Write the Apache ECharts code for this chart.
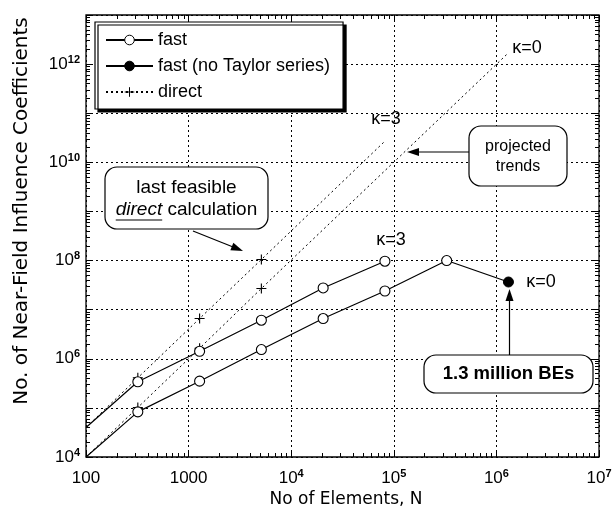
<!DOCTYPE html>
<html>
<head>
<meta charset="utf-8">
<script src="https://cdn.jsdelivr.net/npm/echarts@6/dist/echarts.min.js"></script>
<style>
  html, body { margin: 0; padding: 0; background: #fff; }
  #chart { width: 613px; height: 512px; }
</style>
</head>
<body>
<div id="chart"></div>
<script>
// Mesh sizes N (each refinement multiplies the element count by 4)
const fastK3N = [100, 320, 1280, 5120, 20480, 81920];
const fastK3 = [4.0e4, 3.4e5, 1.42e6, 6.1e6, 2.77e7, 9.7e7];
const fastK0N = [100, 320, 1280, 5120, 20480, 81920, 327680];
const fastK0 = [1.0e4, 8.3e4, 3.5e5, 1.54e6, 6.6e6, 2.4e7, 1.0e8];
const noTaylorN = [1310720];
const noTaylor = [3.66e7];
// Direct evaluation: measured points and the projected N^2 trends
const directK3N = [320, 1280, 5120];
const directK3 = [4.1e5, 6.6e6, 1.05e8];
const trendK3N = [100, 81920];
const trendK3 = [4.0e4, 2.7e10];
const directK0N = [320, 1280, 5120];
const directK0 = [1.02e5, 1.64e6, 2.7e7];
const trendK0N = [100, 1310720];
const trendK0 = [1.0e4, 1.7e12];
// Axis decades and labelled exponents
const xDecades = [2, 3, 4, 5, 6, 7];
const yDecades = [4, 5, 6, 7, 8, 9, 10, 11, 12, 13];
const yLabelled = [4, 6, 8, 10, 12];

const FONT = '"Liberation Sans", Arial, sans-serif';
const TITLE_FONT = '"DejaVu Sans", sans-serif';
const X_MIN = Math.pow(10, xDecades[0]), X_MAX = Math.pow(10, xDecades[xDecades.length - 1]);
const Y_MIN = Math.pow(10, yDecades[0]), Y_MAX = Math.pow(10, yDecades[yDecades.length - 1]);

function minorValues(lo, hi) {
  const v = [];
  for (let e = lo; e < hi; e++) for (let k = 2; k <= 9; k++) v.push(k * Math.pow(10, e));
  return v;
}
const xMinor = minorValues(xDecades[0], xDecades[xDecades.length - 1]);
const yMinor = minorValues(yDecades[0], yDecades[yDecades.length - 1]);

// Points at the left edge of the axis are drawn without a marker
function points(xs, ys) {
  return xs.map((x, i) => {
    const p = { value: [x, ys[i]] };
    if (x <= X_MIN) p.symbol = 'none';
    return p;
  });
}
function plain(x, y) { return { value: [x, y], symbol: 'none' }; }

const rich = {
  b: { fontSize: 17, fontFamily: FONT, color: '#000', lineHeight: 20 },
  e: { fontSize: 11, fontFamily: FONT, color: '#000', fontWeight: 'bold', verticalAlign: 'top', lineHeight: 12 }
};
function expOf(v) { return Math.round(Math.log10(v)); }
function xLabel(v) {
  const e = expOf(v);
  if (xDecades.indexOf(e) < 0) return '';
  return e <= 3 ? '{b|' + Math.pow(10, e) + '}' : '{b|10}{e|' + e + '}';
}
function yLabel(v) {
  const e = expOf(v);
  return yLabelled.indexOf(e) < 0 ? '' : '{b|10}{e|' + e + '}';
}

const tickStyle = { color: '#000', width: 1 };
function frameAxis(pos, min, max, ticks, len) {
  const a = {
    type: 'log', logBase: 10, position: pos, min: min, max: max, splitNumber: 12,
    axisLine: { show: false }, splitLine: { show: false }, axisLabel: { show: false },
    axisTick: { show: true, inside: true, length: len, lineStyle: tickStyle }
  };
  if (ticks) a.axisTick.customValues = ticks;
  return a;
}

const gridLine = { show: true, lineStyle: { color: '#000', width: 1, type: [2, 3] } };

const xPrimary = frameAxis('bottom', X_MIN, X_MAX, null, 7);
xPrimary.splitLine = gridLine;
xPrimary.axisLabel = { show: true, formatter: xLabel, rich: rich, margin: 11, showMinLabel: true, showMaxLabel: true };
const yPrimary = frameAxis('left', Y_MIN, Y_MAX, null, 7);
yPrimary.splitLine = gridLine;
yPrimary.axisLabel = { show: true, formatter: yLabel, rich: rich, margin: 6, showMinLabel: true, showMaxLabel: true };

const solid = { color: '#000', width: 1.2, type: 'solid' };
const dotted = { color: '#000', width: 1, type: [2, 3] };
const openCircle = { color: '#fff', borderColor: '#000', borderWidth: 1.1 };
const crossPath = 'path://M0,5H10M5,0V10';

const series = [
  { name: 'fast', type: 'line', data: points(fastK3N, fastK3), symbol: 'circle', symbolSize: 10,
    itemStyle: openCircle, lineStyle: solid, z: 4 },
  { name: 'fast', type: 'line', data: points(fastK0N, fastK0), symbol: 'circle', symbolSize: 10,
    itemStyle: openCircle, lineStyle: solid, z: 4 },
  { name: 'fast (no Taylor series)', type: 'line',
    data: [plain(fastK0N[fastK0N.length - 1], fastK0[fastK0.length - 1])].concat(points(noTaylorN, noTaylor)),
    symbol: 'circle', symbolSize: 10, itemStyle: { color: '#000', borderColor: '#000', borderWidth: 1 },
    lineStyle: solid, z: 3 },
  { name: 'direct', type: 'line',
    data: [plain(trendK3N[0], trendK3[0])].concat(points(directK3N, directK3), [plain(trendK3N[1], trendK3[1])]),
    symbol: crossPath, symbolSize: 10, itemStyle: { color: '#000', borderColor: '#000', borderWidth: 1.1 },
    lineStyle: dotted, z: 3 },
  { name: 'direct', type: 'line',
    data: [plain(trendK0N[0], trendK0[0])].concat(points(directK0N, directK0), [plain(trendK0N[1], trendK0[1])]),
    symbol: crossPath, symbolSize: 10, itemStyle: { color: '#000', borderColor: '#000', borderWidth: 1.1 },
    lineStyle: dotted, z: 3 }
];
series.forEach(s => { s.animation = false; s.emphasis = { disabled: true }; s.silent = true; });

// Annotation helpers
function arrow(x1, y1, x2, y2) {
  const dx = x2 - x1, dy = y2 - y1, L = Math.hypot(dx, dy), ux = dx / L, uy = dy / L;
  const hl = 12, hw = 4, bx = x2 - ux * hl, by = y2 - uy * hl;
  return [
    { type: 'line', z: 100, shape: { x1: x1, y1: y1, x2: bx + ux * 2, y2: by + uy * 2 }, style: { stroke: '#000', lineWidth: 1.2 } },
    { type: 'polygon', z: 100, shape: { points: [[x2, y2], [bx - uy * hw, by + ux * hw], [bx + uy * hw, by - ux * hw]] }, style: { fill: '#000' } }
  ];
}
function box(x, y, w, h) {
  return { type: 'rect', z: 99, shape: { x: x, y: y, width: w, height: h, r: 12 }, style: { fill: '#fff', stroke: '#000', lineWidth: 1.2 } };
}
function label(text, x, y, size, extra) {
  const st = Object.assign({ text: text, fontSize: size, fontFamily: FONT, fill: '#000',
    align: 'center', verticalAlign: 'middle', textAlign: 'center', textVerticalAlign: 'middle' }, extra || {});
  return { type: 'text', z: 101, x: x, y: y, style: st };
}

// Width of the italic "direct" for its underline
const meas = document.createElement('canvas').getContext('2d');
meas.font = 'italic 19px ' + FONT;
const wDirect = meas.measureText('direct').width;
meas.font = '19px ' + FONT;
const wRest = meas.measureText(' calculation').width;
const feasCx = 186.5;
const ulStart = feasCx - (wDirect + wRest) / 2;

const graphics = [
  // axis titles
  { type: 'text', z: 101, x: 22, y: 211, rotation: Math.PI / 2,
    style: { text: 'No. of Near-Field Influence Coefficients', fontSize: 20, fontFamily: TITLE_FONT, fill: '#000',
      align: 'center', verticalAlign: 'middle', textAlign: 'center', textVerticalAlign: 'middle' } },
  { type: 'text', z: 101, x: 346, y: 500,
    style: { text: 'No of Elements, N', fontSize: 17, fontFamily: TITLE_FONT, fill: '#000',
      align: 'center', verticalAlign: 'middle', textAlign: 'center', textVerticalAlign: 'middle' } },
  // curve labels
  label('κ=0', 527, 48, 18),
  label('κ=3', 386, 119, 18),
  label('κ=3', 391, 240, 18),
  label('κ=0', 541, 282, 18),
  // last feasible direct calculation
  box(105, 167, 163, 62),
  label('last feasible', feasCx, 188, 19),
  label('{i|direct} calculation', feasCx, 210, 19, { rich: { i: { fontStyle: 'italic', fontSize: 19, fontFamily: FONT, fill: '#000' } } }),
  { type: 'line', z: 101, shape: { x1: ulStart, y1: 220, x2: ulStart + wDirect, y2: 220 }, style: { stroke: '#000', lineWidth: 1.2 } },
  // projected trends
  box(469, 126, 98, 60),
  label('projected', 518, 146.5, 16),
  label('trends', 518, 166.5, 16),
  // 1.3 million BEs
  box(424, 355, 169, 38),
  label('1.3 million BEs', 508.5, 374, 18.5, { fontWeight: 'bold' })
].concat(
  arrow(193, 231, 243, 251),
  arrow(469, 152, 407, 152),
  arrow(509.5, 355, 509.5, 289)
);

const chart = echarts.init(document.getElementById('chart'), null, { renderer: 'canvas' });
chart.setOption({
  animation: false,
  backgroundColor: '#fff',
  grid: { left: 86, right: 14, top: 15, bottom: 55, show: true, borderColor: '#000', borderWidth: 1.3,
    backgroundColor: '#fff', containLabel: false, outerBoundsMode: 'none' },
  xAxis: [
    xPrimary,
    frameAxis('bottom', X_MIN, X_MAX, xMinor, 4),
    frameAxis('top', X_MIN, X_MAX, null, 7),
    frameAxis('top', X_MIN, X_MAX, xMinor, 4)
  ],
  yAxis: [
    yPrimary,
    frameAxis('left', Y_MIN, Y_MAX, yMinor, 4),
    frameAxis('right', Y_MIN, Y_MAX, null, 7),
    frameAxis('right', Y_MIN, Y_MAX, yMinor, 4)
  ],
  legend: {
    data: ['fast', 'fast (no Taylor series)', 'direct'],
    orient: 'vertical', left: 95, top: 22,
    itemWidth: 47, itemHeight: 12, itemGap: 8,
    padding: [9, 13, 8, 10],
    backgroundColor: '#fff', borderColor: '#000', borderWidth: 1.2, borderRadius: 0,
    shadowColor: '#000', shadowBlur: 0, shadowOffsetX: 3, shadowOffsetY: 3,
    selectedMode: false,
    itemStyle: { borderWidth: 1 },
    textStyle: { fontSize: 18, fontFamily: FONT, color: '#000' },
    z: 20
  },
  series: series,
  graphic: { elements: graphics }
});
</script>
</body>
</html>
